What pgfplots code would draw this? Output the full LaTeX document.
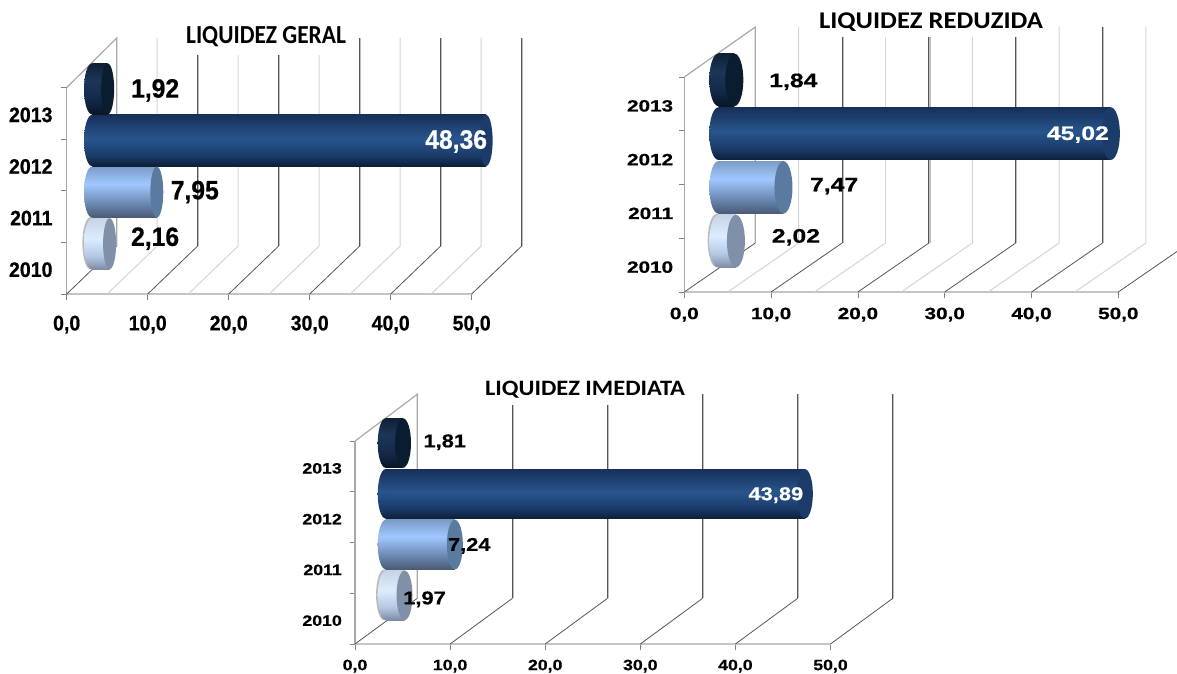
\documentclass[border=0pt]{standalone}
\usepackage{fontspec}
\usepackage{pgfplots}
\pgfplotsset{compat=1.18}
\usetikzlibrary{shapes.geometric}
\newfontfamily\fa[FakeStretch=0.93,BoldFeatures={FakeBold=0.6}]{Liberation Sans}
\newfontfamily\fb[FakeStretch=1.27,BoldFeatures={FakeBold=0.6}]{Liberation Sans}
\newfontfamily\fc[FakeStretch=1.18,BoldFeatures={FakeBold=0.6}]{Liberation Sans}
\newfontfamily\ta[FakeStretch=0.9]{Carlito}
\newfontfamily\tb[FakeStretch=1.11]{Carlito}

\definecolor{griddark}{HTML}{555555}
\definecolor{gridshadow}{HTML}{BEBEBE}
\definecolor{gridlight}{HTML}{D4D4D4}
\definecolor{wallgray}{HTML}{A8A8A8}
\definecolor{floorgray}{HTML}{C4C4C4}

% cylinder side shadings, 25bp..75bp is the bar from bottom to top
\definecolor{dA}{HTML}{081626}\definecolor{dB}{HTML}{13294A}\definecolor{dC}{HTML}{1C3658}\definecolor{dD}{HTML}{0E2038}
\definecolor{nA}{HTML}{0D1F38}\definecolor{nB}{HTML}{1A3A68}\definecolor{nC}{HTML}{28558C}\definecolor{nD}{HTML}{16305A}
\definecolor{mA}{HTML}{4A5A74}\definecolor{mB}{HTML}{5C7498}\definecolor{mC}{HTML}{A0C8FF}\definecolor{mD}{HTML}{7B9CC8}
\definecolor{lA}{HTML}{7D8CA4}\definecolor{lB}{HTML}{B4C8E4}\definecolor{lC}{HTML}{DCECFF}\definecolor{lD}{HTML}{C8D4E4}
\pgfdeclareverticalshading{cyld}{100bp}{color(0bp)=(dA); color(25bp)=(dA); color(40bp)=(dB); color(58bp)=(dC); color(75bp)=(dD); color(100bp)=(dD)}
\pgfdeclareverticalshading{cyln}{100bp}{color(0bp)=(nA); color(25bp)=(nA); color(35bp)=(nB); color(52bp)=(nC); color(75bp)=(nD); color(100bp)=(nD)}
\pgfdeclareverticalshading{cylm}{100bp}{color(0bp)=(mA); color(25bp)=(mA); color(33bp)=(mB); color(58bp)=(mC); color(75bp)=(mD); color(100bp)=(mD)}
\pgfdeclareverticalshading{cyll}{100bp}{color(0bp)=(lA); color(25bp)=(lA); color(38bp)=(lB); color(55bp)=(lC); color(75bp)=(lD); color(100bp)=(lD)}
\definecolor{capd}{HTML}{0A1C30}
\definecolor{capn}{HTML}{1B3C68}
\definecolor{capm}{HTML}{5B7A9F}
\definecolor{capl}{HTML}{7F90A8}

% walls, floor and axes of one chart; #1 = the lines at every odd 5, if any
\newcommand\frameaxis[1]{%
\begin{axis}[
    anchor=south west, at={({\ox*1pt},{(673-\oy)*1pt})},
    scale only axis, width={50*\ux*1pt}, height={4*\cat*1pt},
    xmin=0, xmax=50, ymin=0, ymax=4, clip=false,
    axis x line*=bottom, axis y line*=left,
    x axis line style={floorgray, line width=1.5pt},
    y axis line style={wallgray, line width=1.2pt},
    tick align=outside, major tick length=5.5pt,
    tick style={gray, line width=0.8pt},
    xtick={0,10,20,30,40,50},
    ytick={0,1,2,3,4}, yticklabels={},
    extra y ticks={0.5,1.5,2.5,3.5},
    extra y tick labels={2010,2011,2012,2013},
    extra y tick style={major tick length=0pt, tick style={draw=none}},
    y tick label style={font=\tickfont, inner sep=0pt, xshift=\ylabshift pt, yshift=\ylabdrop pt},
    x tick label style={font=\tickfont, inner sep=0pt, yshift=\xlabshift pt,
      /pgf/number format/.cd, fixed, fixed zerofill, precision=1, use comma, assume math mode=true},
    scaled x ticks=false,
]
#1
\draw[griddark, line width=0.8pt] (axis cs:0,0) -- ++(\ddx pt,\ddy pt);
\draw[wallgray, line width=1.2pt] (axis cs:0,4) -- ([xshift=\ddx pt,yshift={(\ddy+\wall)*1pt}]axis cs:0,0) -- ++(0pt,-\wall pt);
\pgfplotsinvokeforeach{10,20,30,40,50}{
  \draw[griddark, line width=0.8pt] (axis cs:##1,0) -- ++(\ddx pt,\ddy pt);
  \draw[gridshadow, line width=1.2pt] ([xshift=\ddx pt+1pt,yshift=\ddy pt]axis cs:##1,0) -- ++(0pt,\wall pt);
  \draw[griddark, line width=1.1pt] ([xshift=\ddx pt,yshift=\ddy pt]axis cs:##1,0) -- ++(0pt,\wall pt);
}
\end{axis}}

\newcommand\fivelines{%
\pgfplotsinvokeforeach{5,15,25,35,45}{
  \draw[gridlight, line width=1pt] (axis cs:##1,0) -- ++(\ddx pt,\ddy pt) -- ++(0pt,\wall pt);
}}

\pgfplotsset{baraxis/.style={
    anchor=south west, at={({(\ox+\sdx)*1pt},{(673-\oy+\sdy)*1pt})},
    scale only axis, width={50*\bux*1pt}, height={4*\cat*1pt},
    xmin=0, xmax=50, ymin=0, ymax=4, clip=false, hide axis,
    /pgf/number format/.cd, fixed, fixed zerofill, precision=2, use comma, assume math mode=true,
}}

% #1 shading/cap suffix, #2 y, #3 value, #4 label text colour, #5 label xshift, #6 label yshift
\newcommand\cyl[6]{%
\addplot[draw=none, mark=none, nodes near coords={},
  every node near coord/.style={ellipse, shade, shading=cyl#1, minimum width={2*\lcap pt}, minimum height={\barh pt}, inner sep=0pt, anchor=center}]
  coordinates {(0,#2)};
\addplot[xbar, bar width=\barh pt, bar shift=0pt, draw=none, shade, shading=cyl#1] coordinates {(#3,#2)};
\addplot[draw=none, mark=none, nodes near coords={},
  every node near coord/.style={ellipse, fill=cap#1, minimum width={2*\capw pt}, minimum height={\barh pt}, inner sep=0pt, anchor=center}]
  coordinates {(#3,#2)};
\addplot[draw=none, mark=none, point meta=x, nodes near coords,
  every node near coord/.style={font=\valfont, text=#4, inner sep=0pt, anchor=center, xshift=#5pt, yshift=#6pt}]
  coordinates {(#3,#2)};
}
\newcommand\cylshadow[1]{%
\addplot[draw=none, mark=none, nodes near coords={},
  every node near coord/.style={ellipse, fill=gray!55, minimum width={2*\lcap pt}, minimum height={\barh pt+1pt}, inner sep=0pt, anchor=center, xshift=-1.6pt, yshift=0.5pt}]
  coordinates {(0,#1)};
}

\begin{document}
\begin{tikzpicture}[x=1pt,y=1pt]
\path[use as bounding box] (0,0) rectangle (1177,673);

% LIQUIDEZ GERAL
\def\ox{66.7}\def\oy{294}\def\ux{8.1}\def\bux{8.15}\def\cat{51.6}
\def\ddx{50}\def\ddy{48}\def\wall{208}
\def\sdx{25.3}\def\sdy{24.5}\def\capw{6.5}\def\lcap{8}\def\barh{51}
\def\ylabshift{-14}\def\ylabdrop{-1.5}\def\xlabshift{-16}
\def\tickfont{\fa\bfseries\fontsize{21}{21}\selectfont}
\def\valfont{\fa\bfseries\fontsize{26.5}{26.5}\selectfont}
\frameaxis{\fivelines}
\node[fill=white, inner sep=0pt, minimum width=160pt, minimum height=36pt, font=\ta\bfseries\fontsize{26}{26}\selectfont] at (266,636) {LIQUIDEZ GERAL};
\begin{axis}[baraxis]
\cylshadow{0.5}
\cyl{l}{0.5}{2.16}{black}{45.5}{5}
\cyl{m}{1.5}{7.95}{black}{38}{0}
\cyl{n}{2.5}{48.36}{white}{-30}{-1}
\cyl{d}{3.5}{1.92}{black}{47.5}{-1.5}
\end{axis}

% LIQUIDEZ REDUZIDA
\def\ox{684.3}\def\oy{292}\def\ux{8.68}\def\bux{8.72}\def\cat{53.75}
\def\ddx{71}\def\ddy{49}\def\wall{216}
\def\sdx{34}\def\sdy{24}\def\capw{9}\def\lcap{9}\def\barh{52.5}
\def\ylabshift{-11}\def\ylabdrop{-2}\def\xlabshift{-10}
\def\tickfont{\fb\bfseries\fontsize{16.3}{16.3}\selectfont}
\def\valfont{\fb\bfseries\fontsize{19.5}{19.5}\selectfont}
\frameaxis{\fivelines}
\node[fill=white, inner sep=0pt, minimum width=233pt, minimum height=30pt, font=\tb\bfseries\fontsize{24}{24}\selectfont] at (931,651) {LIQUIDEZ REDUZIDA};
\begin{axis}[baraxis]
\cylshadow{0.5}
\cyl{l}{0.5}{2.02}{black}{60}{3.8}
\cyl{m}{1.5}{7.47}{black}{50.7}{1.3}
\cyl{n}{2.5}{45.02}{white}{-33}{-1}
\cyl{d}{3.5}{1.84}{black}{59}{-2}
\end{axis}

% LIQUIDEZ IMEDIATA
\def\ox{355}\def\oy{644}\def\ux{9.51}\def\bux{9.55}\def\cat{50.75}
\def\ddx{62.3}\def\ddy{45.7}\def\wall{204}
\def\sdx{30.7}\def\sdy{23.3}\def\capw{8}\def\lcap{8}\def\barh{49.5}
\def\ylabshift{-13}\def\ylabdrop{-2}\def\xlabshift{-10}
\def\tickfont{\fc\bfseries\fontsize{15}{15}\selectfont}
\def\valfont{\fc\bfseries\fontsize{18.5}{18.5}\selectfont}
\frameaxis{}
\node[fill=white, inner sep=0pt, minimum width=210pt, minimum height=30pt, font=\tb\bfseries\fontsize{22}{22}\selectfont] at (585,283) {LIQUIDEZ IMEDIATA};
\begin{axis}[baraxis]
\cylshadow{0.5}
\cyl{l}{0.5}{1.97}{black}{20}{-4}
\cyl{m}{1.5}{7.24}{black}{14.4}{-1.3}
\cyl{n}{2.5}{43.89}{white}{-29}{-1.3}
\cyl{d}{3.5}{1.81}{black}{41.8}{0.8}
\end{axis}
\end{tikzpicture}
\end{document}
